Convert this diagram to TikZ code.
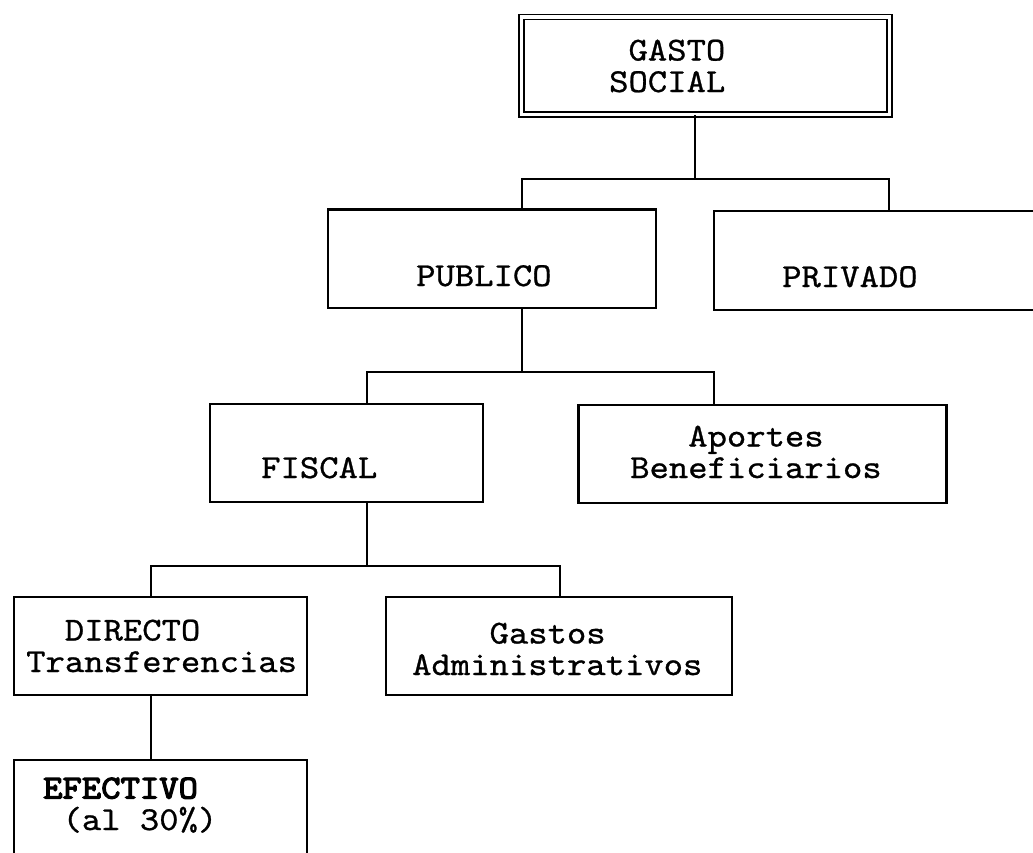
\documentclass[tikz,border=0pt]{standalone}
\usepackage{fontspec}
\usepackage{tikz}

\newfontfamily\boxfont{lmmono10-regular.otf}[FakeBold=0.8,FakeStretch=1.1]
\newfontfamily\boxfontbf{lmmono10-regular.otf}[FakeBold=3.5,FakeStretch=1.1]

\tikzset{
	box/.style={shape=rectangle,draw=black,line width=2.2pt},
	lbl/.style={anchor=base west,inner sep=0pt,align=left,
		font=\fontsize{33.5}{31.5}\selectfont\boxfont},
	link/.style={draw=black,line width=2.2pt}
}

\begin{document}
\begin{tikzpicture}[x=1pt,y=-1pt]
	\useasboundingbox (0,0) rectangle (1033,852);

	\node[box,double,double distance=3.2pt,line width=1.7pt,minimum width=368pt,minimum height=97.5pt] (gasto) at (705.5,65.75) {};
	\node[box,minimum width=328pt,minimum height=98.5pt] (publico) at (492,258.75) {};
	\node[box,minimum width=331pt,minimum height=99pt] (privado) at (879.5,260.5) {};
	\node[box,minimum width=273pt,minimum height=98pt] (fiscal) at (346.5,453) {};
	\node[box,minimum width=368pt,minimum height=98pt] (aportes) at (762.5,454) {};
	\node[box,minimum width=293pt,minimum height=98pt] (directo) at (160.5,646) {};
	\node[box,minimum width=346pt,minimum height=98pt] (gastos) at (559,646) {};
	\node[box,minimum width=293pt,minimum height=100pt] (efectivo) at (160.5,810) {};

	% the base of a label is the base of its last line
	\node[lbl] (gasto-t) at (609,92) {\phantom{A}GASTO\\SOCIAL};
	\node[lbl] (publico-t) at (416,286) {PUBLICO};
	\node[lbl] (privado-t) at (782,287) {PRIVADO};
	\node[lbl] (fiscal-t) at (261,478) {FISCAL};
	\node[lbl] (aportes-t) at (630,478) {\phantom{AAA}Aportes\\Beneficiarios};
	\node[lbl] (directo-t) at (26,672) {\phantom{AA}DIRECTO\\Transferencias};
	\node[lbl] (gastos-t) at (412,675) {\phantom{AAAA}Gastos\\Administrativos};
	\node[lbl] (efectivo-t) at (43,830) {{\boxfontbf EFECTIVO}\\\phantom{A}(al 30\%)};

	\coordinate (j1) at (695,179);
	\coordinate (j1l) at (522,179);
	\coordinate (j1r) at (889,179);
	\coordinate (j2) at (522,372);
	\coordinate (j2l) at (367,372);
	\coordinate (j2r) at (714,372);
	\coordinate (j3) at (367,566);
	\coordinate (j3l) at (151,566);
	\coordinate (j3r) at (560,566);

	\path[link] (gasto.south -| j1) -- (j1);
	\path[link] (publico.north -| j1l) -- (j1l) -- (j1r) -- (privado.north -| j1r);
	\path[link] (publico.south -| j2) -- (j2);
	\path[link] (fiscal.north -| j2l) -- (j2l) -- (j2r) -- (aportes.north -| j2r);
	\path[link] (fiscal.south -| j3) -- (j3);
	\path[link] (directo.north -| j3l) -- (j3l) -- (j3r) -- (gastos.north -| j3r);
	\path[link] (directo.south -| j3l) -- (efectivo.north -| j3l);

\end{tikzpicture}
\end{document}
